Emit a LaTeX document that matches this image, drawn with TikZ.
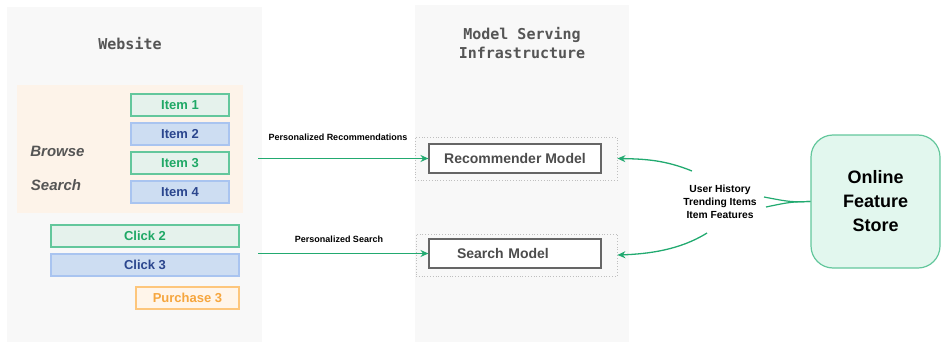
\documentclass[tikz,border=0pt]{standalone}
\usepackage{fontspec}
\setmainfont{Liberation Sans}
\newfontfamily\monofont{DejaVu Sans Mono}
\usetikzlibrary{arrows.meta}
\definecolor{panelgray}{HTML}{F8F8F8}
\definecolor{titlegray}{HTML}{555555}
\definecolor{blockorange}{HTML}{FDF3E9}
\definecolor{grfill}{HTML}{E5F2EC}
\definecolor{grdraw}{HTML}{63C79C}
\definecolor{grtext}{HTML}{1FA866}
\definecolor{blfill}{HTML}{CDDDF2}
\definecolor{bldraw}{HTML}{A9C4F0}
\definecolor{bltext}{HTML}{2B468E}
\definecolor{orfill}{HTML}{FFF5EA}
\definecolor{ordraw}{HTML}{FDC67C}
\definecolor{ortext}{HTML}{F6A63E}
\definecolor{arrowgreen}{HTML}{22AA70}
\definecolor{storefill}{HTML}{E2F7EE}
\tikzset{
  panel/.style={rectangle, fill=panelgray, draw=none, inner sep=0pt},
  titletext/.style={text=titlegray, align=center, font=\monofont\bfseries\fontsize{15}{19.5}\selectfont},
  tagbox/.style={rectangle, minimum height=22, inner sep=0pt, line width=1.1pt, font=\bfseries\fontsize{13}{15}\selectfont},
  greentag/.style={tagbox, fill=grfill, draw=grdraw, text=grtext},
  bluetag/.style={tagbox, fill=blfill, draw=bldraw, text=bltext},
  orangetag/.style={tagbox, fill=orfill, draw=ordraw, text=ortext},
  actiontext/.style={text=titlegray, font=\bfseries\itshape\fontsize{15}{17}\selectfont},
  modelbox/.style={rectangle, fill=white, draw=black!60, line width=1.1pt, minimum width=172, minimum height=29, text=black!70, font=\bfseries\fontsize{14}{16}\selectfont},
  wrapbox/.style={rectangle, draw=black!25, dotted, line width=0.8pt, inner sep=0pt},
  flowlabel/.style={font=\bfseries\fontsize{9}{10}\selectfont},
  flow/.style={draw=arrowgreen, line width=1.3pt, -{Stealth[length=8pt,width=7pt]}},
  feed/.style={draw=arrowgreen, line width=1.2pt}
}

\begin{document}
\begin{tikzpicture}[x=1pt,y=-1pt]
		%%%%% START %%%%%
		\useasboundingbox (0,0) rectangle (941,342);
		
		% panels
		\node[panel, minimum width=255, minimum height=340] (web) at (134.5,177) {};
		\node[panel, minimum width=214, minimum height=342] (serving) at (522,176) {};
		\node[titletext] (webtitle) at (130,44) {Website};
		\node[titletext] (servtitle) at (522,43) {Model Serving\\Infrastructure};
		
		% page area
		\fill[blockorange] (17,85) rectangle (243,213);
		\node[actiontext] (browse) at (57.5,151) {Browse};
		\node[actiontext] (search) at (56,185) {Search};
		
		\node[greentag, minimum width=98] (item1) at (180,105) {Item 1};
		\node[bluetag, minimum width=98] (item2) at (180,134) {Item 2};
		\node[greentag, minimum width=98] (item3) at (180,163) {Item 3};
		\node[bluetag, minimum width=98] (item4) at (180,192) {Item 4};
		
		\node[greentag, minimum width=188] (click2) at (145,236) {Click 2};
		\node[bluetag, minimum width=188] (click3) at (145,265) {Click 3};
		\node[orangetag, minimum width=103] (buy3) at (187.5,298) {Purchase 3};
		
		% models
		\node[wrapbox, minimum width=202, minimum height=43] (recwrap) at (516,158.5) {};
		\node[wrapbox, minimum width=201, minimum height=42] (searchwrap) at (516.5,255) {};
		\node[modelbox] (rec) at (515,158.5) {Recommender Model};
		\node[modelbox, text width=116, inner xsep=28, align=left] (srch) at (515,253.5) {Search Model};
		
		\draw[flow] ([xshift=-4pt]web.east |- rec.west) -- (rec.west);
		\draw[flow] ([xshift=-4pt]web.east |- srch.west) -- (srch.west);
		\node[flowlabel] (reclabel) at (338,137) {Personalized Recommendations};
		\node[flowlabel] (srchlabel) at (339,239) {Personalized Search};
		
		% feature store
		\node[rectangle, rounded corners=22, fill=storefill, draw=grdraw, line width=1.2pt, minimum width=129, minimum height=133, align=center, font=\bfseries\fontsize{18}{24}\selectfont] (store) at (875.5,201.5) {Online\\Feature\\Store};
		\node[align=center, font=\bfseries\fontsize{10.3}{13}\selectfont, inner sep=2pt] (feat) at (720,202) {User History\\Trending Items\\Item Features};
		
		\coordinate (forkup) at (764,197);
		\coordinate (forkdn) at (766,207);
		\coordinate (toup) at (692,171);
		\coordinate (todn) at (707,233);
		\draw[feed] (store.west) .. controls (790,202) .. (forkup);
		\draw[feed] (store.west) .. controls (790,202) .. (forkdn);
		\draw[flow] (toup) .. controls (665,160) and (645,159) .. (recwrap.east);
		\draw[flow] (todn) .. controls (680,250) and (648,254) .. (searchwrap.east);
		
		%%%%% END %%%%%
\end{tikzpicture}
\end{document}
